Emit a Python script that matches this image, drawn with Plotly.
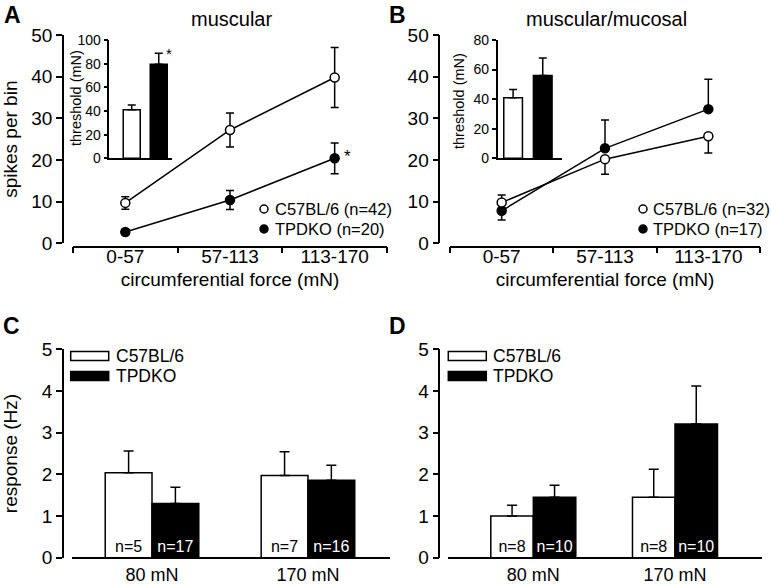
import plotly.graph_objects as go

W, H = 771, 585
FONT = "Liberation Sans, Arial, Helvetica, sans-serif"


def px(x):
    return x / W


def py(y):
    return 1 - y / H


# ---------------- data ----------------
force_bins = ["0-57", "57-113", "113-170"]
genotypes = ["C57BL/6", "TPDKO"]

# Panel A : muscular
a_c57_mean = [9.7, 27.2, 39.8]
a_c57_sem = [1.5, 4.1, 7.2]
a_tpdko_mean = [2.7, 10.4, 20.4]
a_tpdko_sem = [0.6, 2.3, 3.7]
a_thr_mean = [41.0, 79.5]
a_thr_sem = [4.0, 9.2]
a_n = [42, 20]

# Panel B : muscular/mucosal
b_c57_mean = [9.8, 20.2, 25.7]
b_c57_sem_up = [1.8, 0, 0]
b_c57_sem_down = [0, 3.6, 4.0]
b_tpdko_mean = [7.8, 22.8, 32.2]
b_tpdko_sem_up = [0, 6.8, 7.2]
b_tpdko_sem_down = [2.2, 0, 0]
b_thr_mean = [41.0, 56.0]
b_thr_sem = [5.6, 11.8]
b_n = [32, 17]

# Panels C / D : response to stretch
stimuli = ["80 mN", "170 mN"]
c_c57_mean = [2.04, 1.97]
c_c57_sem = [0.52, 0.57]
c_c57_n = [5, 7]
c_tpdko_mean = [1.30, 1.86]
c_tpdko_sem = [0.39, 0.36]
c_tpdko_n = [17, 16]
d_c57_mean = [1.00, 1.45]
d_c57_sem = [0.26, 0.67]
d_c57_n = [8, 8]
d_tpdko_mean = [1.45, 3.21]
d_tpdko_sem = [0.29, 0.91]
d_tpdko_n = [10, 10]

# ---------------- figure ----------------
fig = go.Figure()
LW = 1.5
xi = list(range(len(force_bins)))
si = list(range(len(stimuli)))


def err(up, down=None, width=4):
    d = dict(type="data", array=up, color="black", thickness=LW, width=width)
    if down is None:
        d["symmetric"] = True
    else:
        d["symmetric"] = False
        d["arrayminus"] = down
    return d


def line_trace(y, e, fill, xa, ya, down=None):
    return go.Scatter(
        x=xi, y=y, mode="lines+markers", xaxis=xa, yaxis=ya, showlegend=False,
        line=dict(color="black", width=LW),
        marker=dict(symbol="circle", size=9, color=fill,
                    line=dict(color="black", width=LW)),
        error_y=err(e, down), cliponaxis=False,
    )


# A main
fig.add_trace(line_trace(a_c57_mean, a_c57_sem, "white", "x", "y"))
fig.add_trace(line_trace(a_tpdko_mean, a_tpdko_sem, "black", "x", "y"))
# B main
fig.add_trace(line_trace(b_tpdko_mean, b_tpdko_sem_up, "black", "x3", "y3", b_tpdko_sem_down))
fig.add_trace(line_trace(b_c57_mean, b_c57_sem_up, "white", "x3", "y3", b_c57_sem_down))


def inset_bars(mean, sem, xa, ya):
    return go.Bar(
        x=list(range(len(genotypes))), y=mean, width=0.63, xaxis=xa, yaxis=ya,
        showlegend=False,
        marker=dict(color=["white", "black"], line=dict(color="black", width=LW)),
        error_y=dict(type="data", symmetric=False, array=sem,
                     arrayminus=[0] * len(sem), color="black",
                     thickness=LW, width=4),
    )


fig.add_trace(inset_bars(a_thr_mean, a_thr_sem, "x2", "y2"))
fig.add_trace(inset_bars(b_thr_mean, b_thr_sem, "x4", "y4"))


def group_bar(mean, sem, ns, fill, tcolor, xa, ya, name):
    return go.Bar(
        x=si, y=mean, name=name, xaxis=xa, yaxis=ya, showlegend=False,
        marker=dict(color=fill, line=dict(color="black", width=LW)),
        error_y=dict(type="data", symmetric=False, array=sem,
                     arrayminus=[0] * len(sem), color="black",
                     thickness=LW, width=5),
        text=[f"n={n}" for n in ns], textposition="inside",
        insidetextanchor="start", textangle=0,
        textfont=dict(family=FONT, size=16, color=tcolor),
        constraintext="none",
    )


fig.add_trace(group_bar(c_c57_mean, c_c57_sem, c_c57_n, "white", "black", "x5", "y5", genotypes[0]))
fig.add_trace(group_bar(c_tpdko_mean, c_tpdko_sem, c_tpdko_n, "black", "white", "x5", "y5", genotypes[1]))
fig.add_trace(group_bar(d_c57_mean, d_c57_sem, d_c57_n, "white", "black", "x6", "y6", genotypes[0]))
fig.add_trace(group_bar(d_tpdko_mean, d_tpdko_sem, d_tpdko_n, "black", "white", "x6", "y6", genotypes[1]))

# ---------------- axes ----------------
TICKF = 19
base = dict(showline=True, linecolor="black", linewidth=LW, showgrid=False,
            zeroline=False, automargin=False, ticks="outside",
            tickcolor="black", tickwidth=LW,
            tickfont=dict(family=FONT, size=TICKF, color="black"))


def cat_xaxis(x0, x1, ypos, title):
    d = dict(base)
    d.update(domain=[px(x0), px(x1)], anchor="free", position=py(ypos),
             range=[-0.5, 2.5], tickmode="array", tickvals=xi,
             ticktext=force_bins, ticklen=0, ticklabelstandoff=-7,
             minor=dict(tickmode="array", tickvals=[-0.5, 0.5, 1.5, 2.5],
                        ticks="outside", ticklen=6, tickwidth=LW,
                        tickcolor="black", showgrid=False),
             title=dict(text=title, font=dict(family=FONT, size=19, color="black"),
                        standoff=6))
    return d


def main_yaxis(xpos, y0, y1, rng, dtick, title, standoff):
    d = dict(base)
    d.update(domain=[py(y0), py(y1)], anchor="free", position=px(xpos),
             range=rng, dtick=dtick, tick0=0, ticklen=6,
             title=dict(text=title, font=dict(family=FONT, size=19, color="black"),
                        standoff=standoff))
    return d


def inset_axes(x0, x1, y0, y1, xr, yr, xa, ya):
    xd = dict(base)
    xd.update(domain=[px(x0), px(x1)], anchor=ya, range=xr,
              showticklabels=False, ticks="")
    yd = dict(base)
    yd.update(domain=[py(y0), py(y1)], anchor=xa, range=yr, dtick=20, tick0=0,
              ticklen=4, tickfont=dict(family=FONT, size=14, color="black"))
    return xd, yd


def bar_xaxis(x0, x1, ypos, rng):
    d = dict(base)
    d.update(domain=[px(x0), px(x1)], anchor="free", position=py(ypos),
             range=rng, tickmode="array", tickvals=si, ticktext=stimuli,
             ticklen=0, ticklabelstandoff=1, tickcolor="rgba(0,0,0,0)",
             tickfont=dict(family=FONT, size=18, color="black"))
    return d


x2, y2 = inset_axes(109.3, 172, 158.3, 40, [-0.83, 1.49], [0, 100], "x2", "y2")
x4, y4 = inset_axes(497.7, 561.7, 158.3, 40, [-0.52, 1.64], [0, 80], "x4", "y4")

fig.update_layout(
    template="none",
    width=W, height=H,
    margin=dict(l=0, r=0, t=0, b=0),
    paper_bgcolor="white", plot_bgcolor="rgba(0,0,0,0)",
    font=dict(family=FONT, color="black"),
    barmode="group", bargap=0.4, bargroupgap=0,
    showlegend=False,
    xaxis=cat_xaxis(73, 387, 246.5, "circumferential force (mN)"),
    yaxis=main_yaxis(63, 243.3, 35, [0, 50], 10, "spikes per bin", 12),
    xaxis2=x2, yaxis2=y2,
    xaxis3=cat_xaxis(450, 760, 246.5, "circumferential force (mN)"),
    yaxis3=main_yaxis(439.3, 243.3, 35, [0, 50], 10, "", 8),
    xaxis4=x4, yaxis4=y4,
    xaxis5=bar_xaxis(72, 390, 557.7, [-0.513, 1.526]),
    yaxis5=main_yaxis(63, 557.7, 349.3, [0, 5], 1, "response (Hz)", 22),
    xaxis6=bar_xaxis(448.3, 761.7, 557.7, [-0.6, 1.612]),
    yaxis6=main_yaxis(439.3, 557.7, 349.3, [0, 5], 1, "", 8),
)

# ---------------- annotations ----------------
ann = []
shapes = []


def txt(x, y, s, size=18, bold=False, xanchor="center", yanchor="middle",
        color="black", angle=0):
    ann.append(dict(x=px(x), y=py(y), xref="paper", yref="paper", text=s,
                    showarrow=False, xanchor=xanchor, yanchor=yanchor,
                    textangle=angle,
                    font=dict(family=FONT, size=size, color=color,
                              weight="bold" if bold else "normal")))


# panel letters
txt(2, 0, "A", 23, True, "left", "top")
txt(387, 0, "B", 23, True, "left", "top")
txt(1, 311, "C", 23, True, "left", "top")
txt(387, 311, "D", 23, True, "left", "top")
# panel titles
txt(231, 19, "muscular", 20)
txt(606, 19, "muscular/mucosal", 20)
# inset axis titles
txt(76, 98, "threshold (mN)", 14.5, angle=-90)
txt(459, 101, "threshold (mN)", 14.5, angle=-90)


# legends A / B (circle swatch + label)
def circ(cx, cy, fill, r=4):
    shapes.append(dict(type="circle", xref="paper", yref="paper",
                       x0=px(cx - r), x1=px(cx + r), y0=py(cy + r), y1=py(cy - r),
                       line=dict(color="black", width=LW), fillcolor=fill))


for cx, tx, ns in ((264, 273, a_n), (643, 651, b_n)):
    circ(cx, 209, "white")
    circ(cx, 229, "black")
    txt(tx, 209, f"{genotypes[0]} (n={ns[0]})", 16.5, xanchor="left")
    txt(tx, 229, f"{genotypes[1]} (n={ns[1]})", 16.5, xanchor="left")

# legends C / D (bar swatches)
for x0 in (70.7, 448.3):
    shapes.append(dict(type="rect", xref="paper", yref="paper",
                       x0=px(x0), x1=px(x0 + 38), y0=py(360.5), y1=py(351.5),
                       line=dict(color="black", width=LW), fillcolor="white"))
    shapes.append(dict(type="rect", xref="paper", yref="paper",
                       x0=px(x0), x1=px(x0 + 38), y0=py(380.5), y1=py(371.5),
                       line=dict(color="black", width=LW), fillcolor="black"))
    txt(x0 + 43, 356, genotypes[0], 17.5, xanchor="left")
    txt(x0 + 43, 376, genotypes[1], 17.5, xanchor="left")

# significance asterisks
ann.append(dict(x=1, y=a_thr_mean[1] + a_thr_sem[1], xref="x2", yref="y2",
                text="*", showarrow=False, xshift=10, yshift=0,
                font=dict(family=FONT, size=15, color="black")))
ann.append(dict(x=2, y=a_tpdko_mean[2], xref="x", yref="y",
                text="*", showarrow=False, xshift=13, yshift=2,
                font=dict(family=FONT, size=17, color="black")))

fig.update_layout(annotations=ann, shapes=shapes)
fig.write_html(
    "out.html",
    config={"displayModeBar": False},
    post_script="document.body.style.margin='0';document.body.style.overflow='hidden';",
)
